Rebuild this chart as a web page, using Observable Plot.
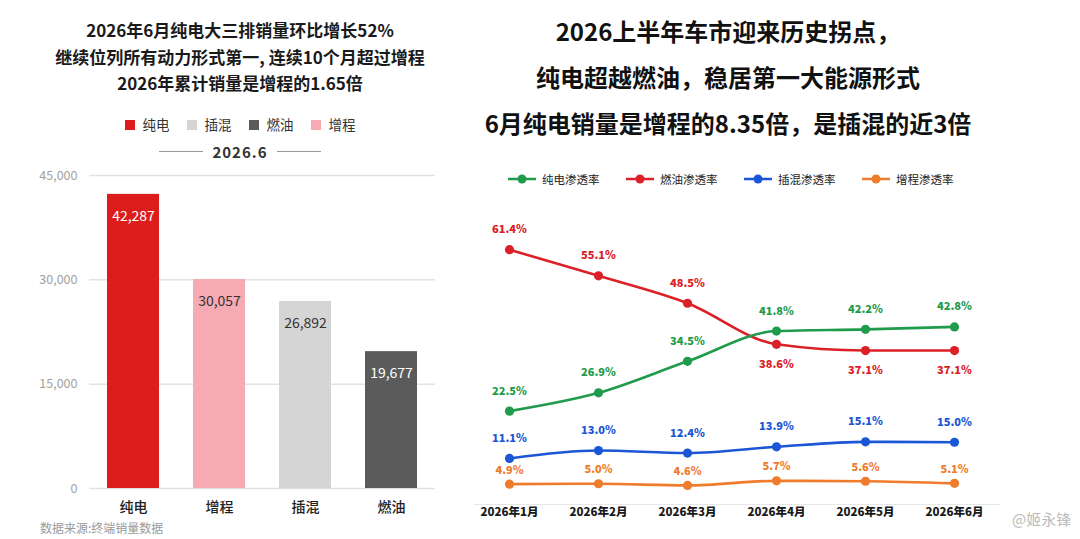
<!DOCTYPE html>
<html><head><meta charset="utf-8">
<script src="https://cdn.jsdelivr.net/npm/d3@7"></script>
<script src="https://cdn.jsdelivr.net/npm/@observablehq/plot@0.6"></script>
<style>
html,body{margin:0;padding:0;background:#fff;}
body{width:1080px;height:539px;position:relative;overflow:hidden;font-family:"Noto Sans CJK SC","Noto Sans",sans-serif;}
.abs{position:absolute;}
.ltitle{left:0;top:17px;width:480px;text-align:center;font-size:17px;font-weight:700;line-height:26.5px;color:#1a1a1a;}
.llegend{left:0;width:480px;top:114px;display:flex;justify-content:center;gap:17px;font-size:13.5px;color:#333;}
.llegend span.sw{display:inline-block;width:10px;height:10px;margin-right:8px;vertical-align:middle;position:relative;top:-1px;}
.period{left:0;width:480px;top:141px;display:flex;justify-content:center;align-items:center;gap:9px;font-size:15px;font-weight:700;color:#333;letter-spacing:1px;}
.period i{display:inline-block;width:44px;height:1px;background:#999;}
.source{left:40px;top:519px;font-size:12px;color:#9a9a9a;}
.rtitle{left:460px;top:8px;width:536px;text-align:center;font-size:24px;font-weight:700;line-height:46px;color:#111;}
.rlegend{left:508px;top:171px;display:flex;font-size:11.5px;color:#222;}
.rlegend div{width:118px;display:flex;align-items:center;}
.rlegend svg{margin-right:6px;}
#left{left:0;top:165px;}
#right{left:460px;top:200px;}
.wm{left:1012px;top:508px;font-size:15px;color:#bbb;}
</style></head>
<body>
<div class="abs ltitle">2026年6月纯电大三排销量环比增长52%<br>继续位列所有动力形式第一, 连续10个月超过增程<br>2026年累计销量是增程的1.65倍</div>
<div class="abs llegend" id="llegend"></div>
<div class="abs period"><i></i>2026.6<i></i></div>
<div class="abs" id="left"></div>
<div class="abs source">数据来源:终端销量数据</div>

<div class="abs rtitle">2026上半年车市迎来历史拐点，<br>纯电超越燃油，稳居第一大能源形式<br>6月纯电销量是增程的8.35倍，是插混的近3倍</div>
<div class="abs rlegend" id="rlegend"></div>
<div class="abs" id="right"></div>
<div class="abs wm">@姬永锋</div>

<script>
// ---- Left chart data ----
const categories = ["纯电", "增程", "插混", "燃油"];
const sales = [42287, 30057, 26892, 19677];
const salesTicks = [0, 15000, 30000, 45000];
const legendOrder = ["纯电", "插混", "燃油", "增程"];

// ---- Right chart data ----
const months = ["2026年1月", "2026年2月", "2026年3月", "2026年4月", "2026年5月", "2026年6月"];
const seriesNames = ["纯电渗透率", "燃油渗透率", "插混渗透率", "增程渗透率"];
const evShare = [22.5, 26.9, 34.5, 41.8, 42.2, 42.8];
const iceShare = [61.4, 55.1, 48.5, 38.6, 37.1, 37.1];
const phevShare = [11.1, 13.0, 12.4, 13.9, 15.1, 15.0];
const erevShare = [4.9, 5.0, 4.6, 5.7, 5.6, 5.1];

const font = '"Noto Sans CJK SC","Noto Sans",sans-serif';

// ===== Left: bar chart =====
const barColor = d3.scaleOrdinal(categories, ["#dc1d1b", "#f6aab3", "#d5d5d5", "#5b5b5b"]);
const barRows = categories.map((c, i) => ({cat: c, value: sales[i]}));

document.getElementById("llegend").innerHTML = legendOrder
  .map(c => `<div><span class="sw" style="background:${barColor(c)}"></span>${c}</div>`).join("");

const left = Plot.plot({
  width: 455, height: 375,
  marginTop: 10, marginBottom: 52, marginLeft: 89, marginRight: 20,
  style: {fontFamily: font, fontSize: "13px", color: "#9a9a9a", background: "transparent"},
  x: {domain: categories, paddingInner: 0.4, paddingOuter: 0.2, label: null},
  y: {domain: [0, 45000], label: null},
  color: {domain: categories, range: categories.map(barColor)},
  marks: [
    Plot.gridY(salesTicks, {stroke: "#e3e3e3", strokeOpacity: 1, strokeWidth: 1.5}),
    Plot.barY(barRows, {x: "cat", y: "value", fill: "cat"}),
    Plot.text(barRows, {
      x: "cat", y: "value", dy: 22, text: d => d3.format(",")(d.value),
      fontSize: 14, fill: d => d3.lab(barColor(d.cat)).l < 60 ? "#ffffff" : "#333333"
    }),
    Plot.axisY({ticks: salesTicks, tickFormat: d3.format(","), tickSize: 0, tickPadding: 12, label: null, fontSize: 12.5, fill: "#a0a0a0"}),
    Plot.axisX({tickSize: 0, tickPadding: 14, label: null, fontSize: 14, fontWeight: 500, fill: "#222"})
  ]
});
document.getElementById("left").appendChild(left);

// ===== Right: line chart =====
const lineColors = ["#1f9b4b", "#dc2027", "#1a56d6", "#ef7b2c"];
const lineColor = d3.scaleOrdinal(seriesNames, lineColors);
const shares = [evShare, iceShare, phevShare, erevShare];
const lineRows = [];
seriesNames.forEach((s, si) => months.forEach((m, mi) => lineRows.push({series: s, month: m, value: shares[si][mi], mi})));

document.getElementById("rlegend").innerHTML = seriesNames.map(s =>
  `<div><svg width="28" height="12"><line x1="0" x2="28" y1="6" y2="6" stroke="${lineColor(s)}" stroke-width="2.5"/><circle cx="14" cy="6" r="4.5" fill="${lineColor(s)}"/></svg>${s}</div>`
).join("");

// ICE label goes below its point once EV overtakes it
const below = d => d.series === seriesNames[1] && iceShare[d.mi] < evShare[d.mi];
const isLow = d => d.series === seriesNames[3];
const drawOrder = [seriesNames[1], seriesNames[0], seriesNames[2], seriesNames[3]];
const pct = d => d.value.toFixed(1) + "%";
const labelStyle = {x: "month", y: "value", text: pct, fill: "series", fontSize: 11, fontWeight: 900};

const right = Plot.plot({
  width: 620, height: 339,
  marginTop: 34.25, marginBottom: 35, marginLeft: 14, marginRight: 80,
  style: {fontFamily: font, background: "transparent"},
  x: {type: "point", domain: months, range: [48, 494], padding: 0, label: null},
  y: {domain: [0, 65], axis: null},
  color: {domain: seriesNames, range: lineColors},
  marks: [
    Plot.ruleY([0], {stroke: "#e6e6e6", strokeWidth: 1.2}),
    ...drawOrder.map(s => Plot.line(lineRows.filter(d => d.series === s), {x: "month", y: "value", stroke: "series", strokeWidth: 2.6, curve: "monotone-x"})),
    Plot.dot(lineRows, {x: "month", y: "value", fill: "series", r: 4.6}),
    Plot.text(lineRows.filter(d => !below(d) && !isLow(d)), {...labelStyle, dy: -20}),
    Plot.text(lineRows.filter(isLow), {...labelStyle, dy: -14}),
    Plot.text(lineRows.filter(below), {...labelStyle, dy: 20}),
    Plot.axisX({tickSize: 0, tickPadding: 3, label: null, fontSize: 11.5, fontWeight: 900, fill: "#1a1a1a"})
  ]
});
document.getElementById("right").appendChild(right);
</script>
</body></html>
